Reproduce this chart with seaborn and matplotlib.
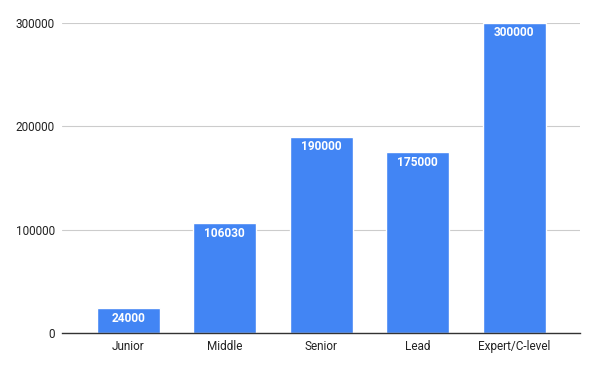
import numpy as np
import pandas as pd
import seaborn as sns
import matplotlib.pyplot as plt

levels = ['Junior', 'Middle', 'Senior', 'Lead', 'Expert/C-level']
salaries = [24000, 106030, 190000, 175000, 300000]
yticks = [0, 100000, 200000, 300000]

df = pd.DataFrame({'level': levels, 'salary': salaries})

sns.set_style('white')
plt.rcParams['font.family'] = ['Roboto', 'DejaVu Sans']

fig = plt.figure(figsize=(5.95, 3.67), dpi=100)
ax = fig.add_axes([62 / 595, 34 / 367, 518 / 595, 310 / 367])

sns.barplot(data=df, x='level', y='salary', color='#4285f4', saturation=1,
            width=0.653, ax=ax, zorder=3)

# value labels inside the top of each bar
for i, v in enumerate(df['salary']):
    ax.annotate(str(v), (i, v), xytext=(0, -2.5), textcoords='offset points',
                ha='center', va='top', color='white', fontsize=8.6, fontweight='bold')

ax.set_xlim(-0.686, 4.682)
ax.set_ylim(0, 300000)
ax.set_yticks(yticks)
ax.set_yticklabels([str(t) for t in yticks])
ax.yaxis.grid(True, color='#cccccc', linewidth=0.8, zorder=0)
ax.set_axisbelow(True)
ax.tick_params(axis='both', length=0, labelsize=8.5, colors='#222222', pad=5)
ax.set_xlabel('')
ax.set_ylabel('')

for side in ['top', 'right', 'left']:
    ax.spines[side].set_visible(False)
ax.spines['bottom'].set_color('#333333')
ax.spines['bottom'].set_linewidth(1)
ax.spines['bottom'].set_zorder(4)

fig.savefig('out.png', dpi=100)
